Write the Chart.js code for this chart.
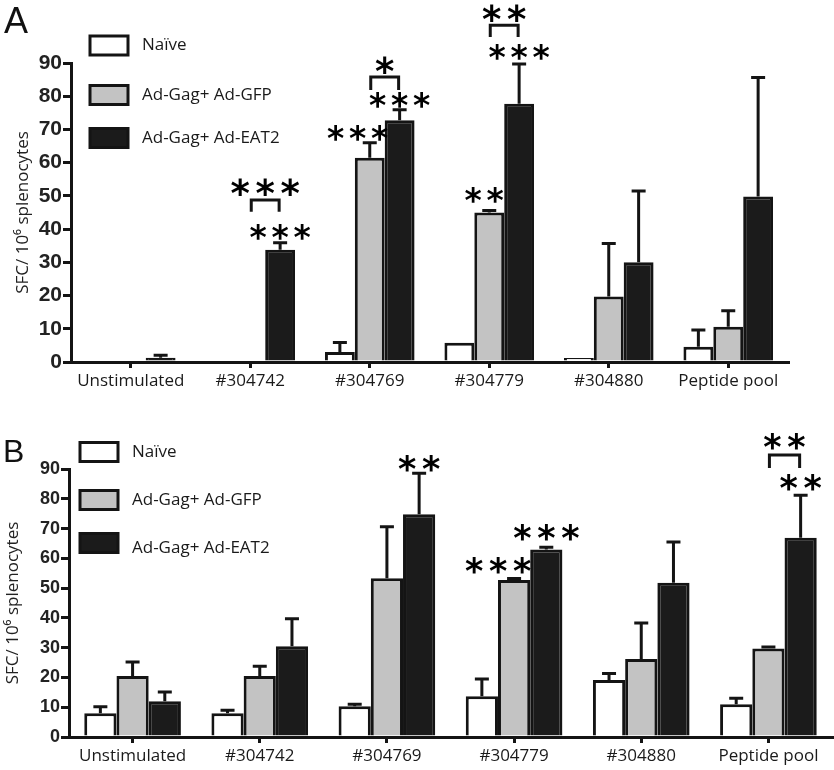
<!DOCTYPE html>
<html><head><meta charset="utf-8">
<script src="https://cdn.jsdelivr.net/npm/chart.js@4.4.0/dist/chart.umd.min.js"></script>
<style>
html,body{margin:0;padding:0;background:#fff;}
#wrap{position:relative;width:834px;height:770px;overflow:hidden;}
#cA{position:absolute;left:0;top:0;}
#cB{position:absolute;left:0;top:400px;}
</style></head>
<body><div id="wrap"><canvas id="cA" width="834" height="400"></canvas><canvas id="cB" width="834" height="370"></canvas></div>
<script>
// ---------- data ----------
const categories = ['Unstimulated', '#304742', '#304769', '#304779', '#304880', 'Peptide pool'];
const seriesNames = ['Naïve', 'Ad-Gag+ Ad-GFP', 'Ad-Gag+ Ad-EAT2'];
const yTicks = [0, 10, 20, 30, 40, 50, 60, 70, 80, 90];
const yTitle = 'SFC/ 10⁶ splenocytes';

// Panel A
const naiveA = [0, 0, 3.0, 5.8, 1.2, 4.6];
const gfpA   = [0, 0, 61.5, 45.0, 19.7, 10.6];
const eat2A  = [1.3, 33.8, 72.8, 77.7, 30.0, 49.8];
const naiveA_sem = [0, 0, 2.9, 0, 0, 5.0];
const gfpA_sem   = [0, 0, 4.5, 0.6, 16.0, 4.8];
const eat2A_sem  = [0.7, 2.1, 3.1, 12.0, 21.5, 35.8];
const starsA = [
  {cat: 1, ds: 2, text: '***', y: 39.1},
  {cat: 2, ds: 1, text: '***', y: 68.9, dx: -12},
  {cat: 2, ds: 2, text: '***', y: 78.9},
  {cat: 3, ds: 1, text: '**',  y: 50.3, dx: -5},
  {cat: 3, ds: 2, text: '***', y: 93.3}
];
const bracketsA = [
  {cat: 1, from: 1, to: 2, top: 48.8, leg: 45.2, text: '***', textY: 52.7},
  {cat: 2, from: 1, to: 2, top: 85.8, leg: 81.9, text: '*',   textY: 89.4},
  {cat: 3, from: 1, to: 2, top: 101.4, leg: 97.8, text: '**', textY: 105.0}
];

// Panel B
const naiveB = [8.0, 8.0, 10.3, 13.7, 19.1, 11.0];
const gfpB   = [20.5, 20.5, 53.3, 52.7, 26.2, 29.7];
const eat2B  = [12.0, 30.5, 74.8, 63.0, 51.8, 66.9];
const naiveB_sem = [2.2, 1.0, 0.7, 5.8, 2.2, 2.0];
const gfpB_sem   = [4.7, 3.3, 17.3, 0.5, 12.1, 0.5];
const eat2B_sem  = [3.1, 9.2, 13.8, 0.7, 13.7, 14.3];
const starsB = [
  {cat: 2, ds: 2, text: '**',  y: 92.0},
  {cat: 3, ds: 1, text: '***', y: 57.7, dx: -16},
  {cat: 3, ds: 2, text: '***', y: 68.8},
  {cat: 5, ds: 2, text: '**',  y: 85.3}
];
const bracketsB = [
  {cat: 5, from: 1, to: 2, top: 94.7, leg: 90.3, text: '**', textY: 99.1}
];

// ---------- styles ----------
const fills = ['#ffffff', '#c3c3c3', '#1b1b1b'];
const INK = '#141414';
const SANS = '"Open Sans", "Noto Sans", sans-serif';
const BOLD = '"Liberation Sans", Arial, sans-serif';
const STARFONT = '"DejaVu Sans", sans-serif';

Chart.defaults.animation = false;

function drawStars(ctx, text, x, y, size, spacing) {
  ctx.save();
  ctx.font = 'bold ' + size + 'px ' + STARFONT;
  ctx.fillStyle = '#000';
  const m = ctx.measureText('*');
  const adv = m.width;
  const ls = spacing - adv;
  ctx.letterSpacing = ls + 'px';
  ctx.textAlign = 'center';
  ctx.textBaseline = 'alphabetic';
  const off = (m.actualBoundingBoxAscent - m.actualBoundingBoxDescent) / 2;
  ctx.fillText(text, x + ls / 2, y + off);
  ctx.restore();
}

const errorBarPlugin = {
  id: 'errorBars',
  afterDatasetsDraw(chart, args, opts) {
    const ctx = chart.ctx, ys = chart.scales.y;
    chart.data.datasets.forEach((ds, i) => {
      const meta = chart.getDatasetMeta(i);
      meta.data.forEach((el, j) => {
        const e = ds.sem[j];
        if (!e) return;
        const yTop = el.y;
        const yE = ys.getPixelForValue(ds.data[j] + e);
        ctx.save();
        ctx.strokeStyle = INK;
        ctx.lineWidth = opts.lw;
        ctx.beginPath();
        ctx.moveTo(el.x, yTop);
        ctx.lineTo(el.x, yE);
        ctx.moveTo(el.x - opts.cap / 2, yE);
        ctx.lineTo(el.x + opts.cap / 2, yE);
        ctx.stroke();
        ctx.restore();
      });
    });
  }
};

const annotPlugin = {
  id: 'annot',
  afterDraw(chart, args, o) {
    const ctx = chart.ctx, ys = chart.scales.y;
    const px = (cat, ds) => chart.getDatasetMeta(ds).data[cat].x;
    o.stars.forEach(s => {
      drawStars(ctx, s.text, px(s.cat, s.ds) + (s.dx || 0), ys.getPixelForValue(s.y), o.starSize, o.starGap);
    });
    o.brackets.forEach(b => {
      const x1 = px(b.cat, b.from) + 1, x2 = px(b.cat, b.to) - 1;
      const yT = ys.getPixelForValue(b.top), yL = ys.getPixelForValue(b.leg);
      ctx.save();
      ctx.strokeStyle = INK; ctx.lineWidth = 3; ctx.lineJoin = 'miter';
      ctx.beginPath();
      ctx.moveTo(x1, yL); ctx.lineTo(x1, yT); ctx.lineTo(x2, yT); ctx.lineTo(x2, yL);
      ctx.stroke();
      ctx.restore();
      drawStars(ctx, b.text, (x1 + x2) / 2, ys.getPixelForValue(b.textY), o.bigStarSize, o.bigStarGap);
    });
    // legend
    const L = o.legend;
    chart.data.datasets.forEach((ds, i) => {
      const cy = L.rows[i];
      ctx.save();
      ctx.fillStyle = ds.backgroundColor;
      ctx.fillRect(L.x, cy - L.h / 2, L.w, L.h);
      ctx.strokeStyle = INK; ctx.lineWidth = 3;
      ctx.strokeRect(L.x, cy - L.h / 2, L.w, L.h);
      ctx.fillStyle = '#1a1a1a';
      ctx.font = L.font + 'px ' + SANS;
      ctx.textBaseline = 'middle';
      ctx.textAlign = 'left';
      ctx.fillText(ds.label, L.tx, cy + (L.tdy ? L.tdy[i] : 0));
      ctx.restore();
    });
    // panel letter
    ctx.save();
    ctx.fillStyle = '#111';
    ctx.font = o.letter.size + 'px ' + BOLD;
    ctx.textBaseline = 'alphabetic';
    ctx.fillText(o.letter.text, o.letter.x, o.letter.y);
    ctx.restore();
  }
};

function makeChart(id, vals, sems, cfg) {
  return new Chart(document.getElementById(id), {
    type: 'bar',
    data: {
      labels: categories,
      datasets: vals.map((v, i) => ({
        label: seriesNames[i],
        data: v,
        sem: sems[i],
        backgroundColor: fills[i],
        borderColor: INK,
        borderWidth: 3,
        borderSkipped: 'start',
        categoryPercentage: cfg.catPct,
        barPercentage: 1.0
      }))
    },
    options: {
      responsive: false,
      devicePixelRatio: 1,
      events: [],
      layout: {padding: cfg.padding},
      plugins: {
        legend: {display: false},
        tooltip: {enabled: false},
        errorBars: {lw: 3, cap: cfg.cap},
        annot: cfg.annot
      },
      scales: {
        x: {
          offset: true,
          grid: {display: true, offset: false, drawOnChartArea: false, drawTicks: true, tickLength: 6, lineWidth: 3, color: INK},
          border: {display: true, width: 3, color: INK},
          ticks: {color: '#1a1a1a', font: {family: SANS, size: cfg.xFont}, padding: cfg.xPad, maxRotation: 0, autoSkip: false},
          afterFit: s => { s.height = cfg.xHeight; }
        },
        y: {
          min: 0, max: 90,
          afterBuildTicks: s => { s.ticks = yTicks.map(v => ({value: v})); },
          grid: {display: true, drawOnChartArea: false, drawTicks: true, tickLength: 8, lineWidth: 3, color: INK},
          border: {display: true, width: 3, color: INK},
          ticks: {color: '#222', font: {family: BOLD, weight: 'bold', size: cfg.yFont}, padding: 1},
          title: {display: true, text: yTitle, color: '#222', font: {family: SANS, size: 17}, padding: {top: cfg.titlePad, bottom: 0}},
          afterFit: s => { s.width = cfg.yWidth; }
        }
      }
    },
    plugins: [errorBarPlugin, annotPlugin]
  });
}

makeChart('cA', [naiveA, gfpA, eat2A], [naiveA_sem, gfpA_sem, eat2A_sem], {
  catPct: 0.75, padding: {left: 0, top: 63, right: 46, bottom: 0},
  xHeight: 38, yWidth: 71, xFont: 17, xPad: 3, yFont: 21, titlePad: 13, cap: 14,
  annot: {
    stars: starsA, brackets: bracketsA, starSize: 33, starGap: 22, bigStarSize: 37, bigStarGap: 25,
    legend: {x: 90, w: 38, h: 19, rows: [45.5, 95, 138], tx: 142, font: 17},
    letter: {text: 'A', size: 36, x: 4, y: 33}
  }
});

makeChart('cB', [naiveB, gfpB, eat2B], [naiveB_sem, gfpB_sem, eat2B_sem], {
  catPct: 0.76, padding: {left: 0, top: 69, right: 2, bottom: 0},
  xHeight: 33, yWidth: 69, xFont: 17, xPad: 3, yFont: 18, titlePad: 3, cap: 14,
  annot: {
    stars: starsB, brackets: bracketsB, starSize: 35, starGap: 24, bigStarSize: 35, bigStarGap: 24,
    legend: {x: 80, w: 38, h: 19, rows: [52, 100, 143], tx: 132, font: 17, tdy: [0, 0, 5]},
    letter: {text: 'B', size: 32, x: 3, y: 62}
  }
});
</script>
</body></html>
